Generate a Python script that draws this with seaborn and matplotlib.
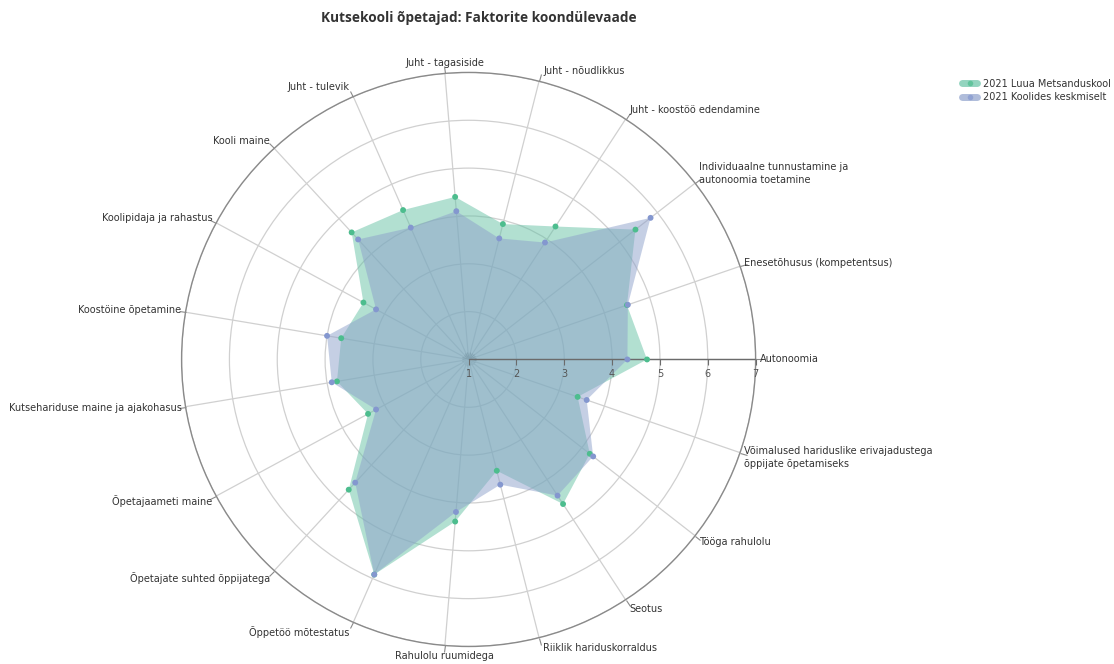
import numpy as np
import pandas as pd
import matplotlib
matplotlib.use("Agg")
import matplotlib.pyplot as plt
from matplotlib.lines import Line2D
import seaborn as sns

# ---- data ----
categories = [
    "Autonoomia",
    "Enesetõhusus (kompetentsus)",
    "Individuaalne tunnustamine ja\nautonoomia toetamine",
    "Juht - koostöö edendamine",
    "Juht - nõudlikkus",
    "Juht - tagasiside",
    "Juht - tulevik",
    "Kooli maine",
    "Koolipidaja ja rahastus",
    "Koostöine õpetamine",
    "Kutsehariduse maine ja ajakohasus",
    "Õpetajaameti maine",
    "Õpetajate suhted õppijatega",
    "Õppetöö mõtestatus",
    "Rahulolu ruumidega",
    "Riiklik hariduskorraldus",
    "Seotus",
    "Tööga rahulolu",
    "Võimalused hariduslike erivajadustega\nõppijate õpetamiseks",
]
series_names = ["2021 Luua Metsanduskool", "2021 Koolides keskmiselt"]
luua = [4.73, 4.50, 5.42, 4.32, 3.92, 4.41, 4.41, 4.61, 3.50, 3.70,
        3.79, 3.39, 4.70, 5.91, 4.40, 3.40, 4.61, 4.21, 3.41]
keskmine = [4.32, 4.52, 5.82, 3.92, 3.61, 4.11, 4.01, 4.41, 3.20, 4.00,
            3.90, 3.20, 4.50, 5.91, 4.20, 3.70, 4.40, 4.30, 3.61]
r_ticks = [1, 2, 3, 4, 5, 6, 7]

# ---- style ----
sns.set_theme(style="white")
plt.rcParams["font.family"] = ["DejaVu Sans"]

pal = sns.color_palette("Set2")
fill_colors = [pal[0], pal[2]]
marker_colors = ["#4dbd8e", "#8497cf"]

n = len(categories)
theta = np.arange(n) * 2 * np.pi / n

rows = []
for name, vals in zip(series_names, [luua, keskmine]):
    for t, c, v in zip(theta, categories, vals):
        rows.append({"theta": t, "category": c, "value": v, "series": name})
df = pd.DataFrame(rows)

fig = plt.figure(figsize=(11.14, 6.64), dpi=100)
ax = fig.add_axes([0.163, 0.0264, 0.5153, 0.8645], projection="polar")

# areas
for name, fc in zip(series_names, fill_colors):
    sub = df[df["series"] == name]
    t = np.append(sub["theta"].values, sub["theta"].values[0])
    v = np.append(sub["value"].values, sub["value"].values[0])
    ax.fill(t, v, color=fc, alpha=0.5, lw=0, zorder=2)

# markers
sns.scatterplot(data=df, x="theta", y="value", hue="series",
                palette=dict(zip(series_names, marker_colors)),
                s=18, linewidth=0, ax=ax, legend=False, zorder=4)

ax.set_ylim(r_ticks[0], r_ticks[-1])
ax.set_yticks(r_ticks)
ax.set_yticklabels([])
ax.set_xticks(theta)
ax.set_xticklabels([])
ax.set_xlabel("")
ax.set_ylabel("")
ax.grid(True, color="#d0d0d0", lw=0.9)
ax.spines["polar"].set_color("#8a8a8a")
ax.spines["polar"].set_linewidth(1.0)
ax.tick_params(axis="x", which="major", length=5, width=0.8, color="#8a8a8a",
               direction="out", bottom=True, top=True)

# radial axis line with ticks and labels along Autonoomia
ax.plot([0, 0], [r_ticks[0], r_ticks[-1]], color="#6b6b6b", lw=1.0, zorder=3)
for rv in r_ticks:
    ax.plot([0], [rv], marker=3, color="#6b6b6b", markersize=4, mew=0.8,
            zorder=3, clip_on=False)
    ax.annotate(str(rv), xy=(0, rv), xytext=(0, -7), textcoords="offset points",
                ha="center", va="top", fontsize=7, color="#555555")

# category labels
for t, lab in zip(theta, categories):
    c, s = np.cos(t), np.sin(t)
    if abs(c) < 0.15:
        ha = "center"
        dx = 0
    elif c > 0:
        ha = "left"
        dx = 4
    else:
        ha = "right"
        dx = -4
    nlines = lab.count("\n") + 1
    dy = s * (5 + 5.5 * nlines)
    ax.annotate(lab, xy=(t, r_ticks[-1]), xytext=(dx, dy),
                textcoords="offset pixels", ha=ha, va="center",
                fontsize=7, color="#333333", linespacing=1.35,
                annotation_clip=False)

# title
fig.text(0.43, 1 - 18 / 664, "Kutsekooli õpetajad: Faktorite koondülevaade",
         ha="center", va="center", fontsize=9.8, fontweight="bold",
         color="#333333", family=["Open Sans", "DejaVu Sans"])

# legend
handles = [Line2D([0], [0], color=fc, alpha=0.7, lw=5, marker="o",
                  markersize=4, markerfacecolor=mc, markeredgewidth=0)
           for fc, mc in zip(fill_colors, marker_colors)]
fig.legend(handles, series_names, loc="upper left",
           bbox_to_anchor=(953 / 1114, 1 - 70 / 664), frameon=False,
           fontsize=7, handlelength=1.6, handletextpad=0.6,
           labelspacing=0.35, labelcolor="#333333")

fig.savefig("out.png", dpi=100)
